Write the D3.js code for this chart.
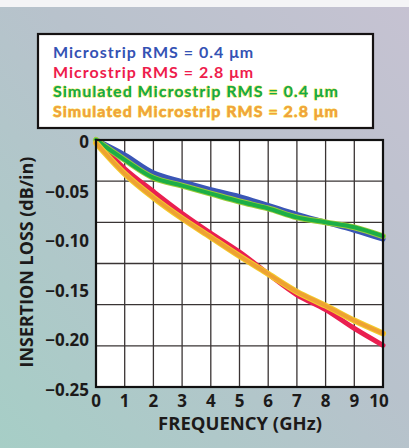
<!DOCTYPE html>
<html>
<head>
<meta charset="utf-8">
<script src="https://cdn.jsdelivr.net/npm/d3@7/dist/d3.min.js"></script>
<style>
  html, body { margin: 0; padding: 0; background: #fff; }
  svg { display: block; }
  text { font-family: "Open Sans", Lato, sans-serif; font-weight: 700; }
  text.leg { font-family: Lato, "Open Sans", sans-serif; font-weight: 700; }
</style>
</head>
<body>
<svg id="chart" width="409" height="448"></svg>
<script>
// ---- data ----
const freqs = [0, 1, 2, 3, 4, 5, 6, 7, 8, 9, 10];
const measured04 = [0, -0.015, -0.033, -0.042, -0.050, -0.057, -0.066, -0.075, -0.083, -0.091, -0.100];
const measured28 = [0, -0.029, -0.052, -0.074, -0.094, -0.113, -0.135, -0.156, -0.171, -0.190, -0.207];
const simulated04 = [0, -0.020, -0.038, -0.046, -0.054, -0.062, -0.069, -0.078, -0.083, -0.088, -0.097];
const simulated28 = [-0.003, -0.034, -0.058, -0.079, -0.098, -0.117, -0.135, -0.153, -0.167, -0.182, -0.195];
const xTicks = [0, 1, 2, 3, 4, 5, 6, 7, 8, 9, 10];
const yTicks = [0, -0.05, -0.10, -0.15, -0.20, -0.25];
const yTickLabels = ["0", "\u22120.05", "\u22120.10", "\u22120.15", "\u22120.20", "\u22120.25"];
const legendLabels = [
  "Microstrip RMS = 0.4 \u03bcm",
  "Microstrip RMS = 2.8 \u03bcm",
  "Simulated Microstrip RMS = 0.4 \u03bcm",
  "Simulated Microstrip RMS = 2.8 \u03bcm"
];
const xTitle = "FREQUENCY (GHz)";
const yTitle = "INSERTION LOSS (dB/in)";

// ---- layout ----
const svg = d3.select("#chart");
const W = 409, H = 448;
const L = 96, R = 383, T = 140, B = 387;

function fitWidth(sel, base, target) {
  sel.attr("font-size", base);
  const w = sel.node().getComputedTextLength();
  sel.attr("font-size", base * target / w);
  return base * target / w;
}

const defs = svg.append("defs");
const bg = defs.append("linearGradient").attr("id", "bg")
  .attr("x1", "100%").attr("y1", "0%").attr("x2", "0%").attr("y2", "100%");
bg.append("stop").attr("offset", "0%").attr("stop-color", "#c6c2d2");
bg.append("stop").attr("offset", "45%").attr("stop-color", "#b8c2cc");
bg.append("stop").attr("offset", "100%").attr("stop-color", "#a6cec6");

svg.append("rect").attr("width", W).attr("height", H).attr("fill", "url(#bg)");
svg.append("rect").attr("width", W).attr("height", 7).attr("fill", "#f4f4f6");

const x = d3.scaleLinear().domain([0, 10]).range([L, R]);
const y = d3.scaleLinear().domain([-0.25, 0]).range([B + 1, T]);
const gridY = d3.scaleLinear().domain([0, 6]).range([T, B]);

// plot area
svg.append("rect").attr("x", L).attr("y", T).attr("width", R - L).attr("height", B - T)
  .attr("fill", "#ffffff");

// grid
const grid = svg.append("g").attr("stroke", "#3a3434").attr("stroke-width", 1.3);
grid.selectAll("line.v").data(xTicks.slice(1, -1)).join("line")
  .attr("x1", d => x(d)).attr("x2", d => x(d)).attr("y1", T).attr("y2", B);
grid.selectAll("line.h").data(d3.range(1, 6)).join("line")
  .attr("y1", d => gridY(d)).attr("y2", d => gridY(d)).attr("x1", L).attr("x2", R);

// curves
const series = [
  { vals: measured04, color: "#3a56b6", halo: null },
  { vals: measured28, color: "#ea1f50", halo: null },
  { vals: simulated04, color: "#1cae46", halo: "#9ccc3a" },
  { vals: simulated28, color: "#eea232", halo: "#f4cc2c" }
];
const line = d3.line().x(d => x(d[0])).y(d => y(d[1])).curve(d3.curveCatmullRom.alpha(0.5));
series.forEach(s => {
  const pts = freqs.map((f, i) => [f, s.vals[i]]);
  if (s.halo) {
    svg.append("path").datum(pts).attr("d", line).attr("fill", "none")
      .attr("stroke", s.halo).attr("stroke-width", 6).attr("stroke-linecap", "round");
    svg.append("path").datum(pts).attr("d", line).attr("fill", "none")
      .attr("stroke", s.color).attr("stroke-width", 4).attr("stroke-linecap", "round");
  } else {
    svg.append("path").datum(pts).attr("d", line).attr("fill", "none")
      .attr("stroke", s.color).attr("stroke-width", 5).attr("stroke-linecap", "round");
  }
});

// frame
svg.append("rect").attr("x", L).attr("y", T).attr("width", R - L).attr("height", B - T)
  .attr("fill", "none").attr("stroke", "#111").attr("stroke-width", 2.2);

// y ticks
svg.append("g").selectAll("text").data(yTicks).join("text")
  .attr("x", 89).attr("y", d => y(d) + 1.5)
  .attr("text-anchor", "end").attr("dominant-baseline", "central")
  .attr("font-size", 17).attr("fill", "#1c1a1a")
  .text((d, i) => yTickLabels[i]);

// x ticks
svg.append("g").selectAll("text").data(xTicks).join("text")
  .attr("x", d => x(d) - (d === 10 ? 4 : 0)).attr("y", 407)
  .attr("text-anchor", "middle")
  .attr("font-size", 17).attr("fill", "#1c1a1a")
  .text(d => d);

// axis titles
const xt = svg.append("text").attr("x", 240).attr("y", 430).attr("text-anchor", "middle")
  .attr("fill", "#1c1a1a").text(xTitle);
fitWidth(xt, 16, 164);
const yt = svg.append("text").attr("transform", "translate(33,262) rotate(-90)")
  .attr("text-anchor", "middle").attr("fill", "#1c1a1a").text(yTitle);
fitWidth(yt, 16, 211);

// legend
svg.append("rect").attr("x", 38).attr("y", 34).attr("width", 335).attr("height", 94)
  .attr("fill", "#ffffff").attr("stroke", "#151212").attr("stroke-width", 2.2);
const legendY = [58, 77.5, 97, 117];
const legendColors = ["#3452b4", "#ee1c4c", "#12aa4c", "#f0a040"];
const legendHalo = [null, null, "#e8e040", "#f6d838"];
const lg = svg.append("g");
legendLabels.forEach((t, i) => {
  const tx = lg.append("text").attr("class", "leg").attr("x", 53).attr("y", legendY[i])
    .attr("font-size", 16).attr("fill", legendColors[i]).text(t);
  if (legendHalo[i]) {
    tx.attr("stroke", legendHalo[i]).attr("stroke-width", 1.0)
      .attr("paint-order", "stroke").attr("stroke-linejoin", "round");
  }
});
const third = lg.selectAll("text").nodes()[2];
const w3 = third.getComputedTextLength();
const ls = Math.min(1, Math.max(0, (297 - w3) / (legendLabels[2].length - 1)));
lg.selectAll("text").attr("letter-spacing", ls);
</script>
</body>
</html>
